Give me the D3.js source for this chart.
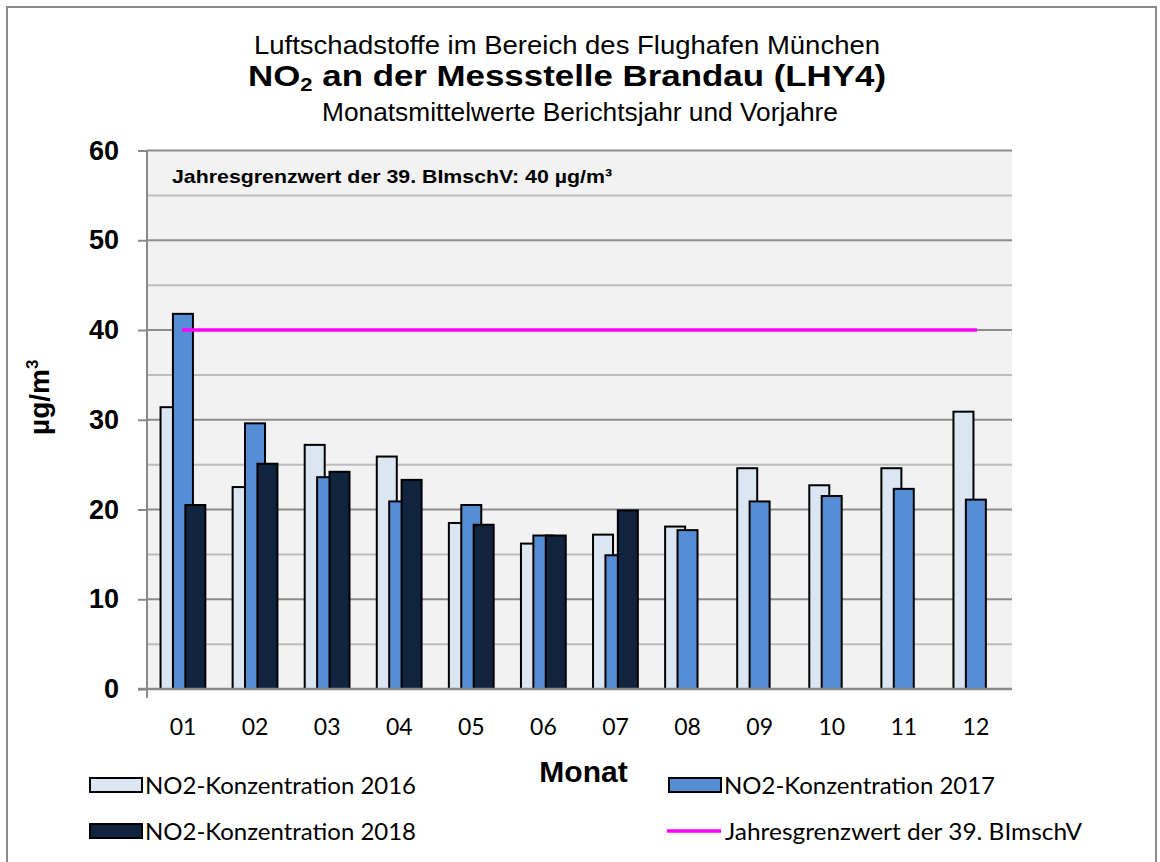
<!DOCTYPE html>
<html>
<head>
<meta charset="utf-8">
<script src="https://cdn.jsdelivr.net/npm/d3@7"></script>
<style>
    body { margin: 0; background: #fff; }
    svg { display: block; }
    .tick-y text { font-family: "Liberation Sans", Arial, sans-serif; font-weight: bold; font-size: 27px; fill: #000; }
    .tick-x text { font-family: Lato, "Open Sans", sans-serif; font-size: 23px; fill: #000; }
    .legendText { font-family: Lato, "Open Sans", sans-serif; font-size: 23px; fill: #000; }
</style>
</head>
<body>
<svg id="chart"></svg>
<script>
// months and series
const months = ['01', '02', '03', '04', '05', '06', '07', '08', '09', '10', '11', '12'];
const seriesNames = ['NO2-Konzentration 2016', 'NO2-Konzentration 2017', 'NO2-Konzentration 2018'];
const values2016 = [31.4, 22.5, 27.2, 25.9, 18.5, 16.2, 17.2, 18.1, 24.6, 22.7, 24.6, 30.9];
const values2017 = [41.8, 29.6, 23.6, 20.9, 20.5, 17.1, 14.9, 17.7, 20.9, 21.5, 22.3, 21.1];
const values2018 = [20.5, 25.1, 24.2, 23.3, 18.3, 17.1, 19.9, null, null, null, null, null];
const limitValue = 40;
const limitName = 'Jahresgrenzwert der 39. BImschV';
const yTicks = [0, 10, 20, 30, 40, 50, 60];
const yMinorTicks = [5, 15, 25, 35, 45, 55];

const colors = ['#dce6f2', '#558ed5', '#10243f'];

class NO2Chart {
    constructor(_config) {
        this.config = {
            parentElement: _config.parentElement,
            containerWidth: 1160,
            containerHeight: 862,
            margin: { top: 150.5, right: 148, bottom: 173, left: 147 }
        };
        this.initVis();
    }

    initVis() {
        let vis = this;
        vis.width = vis.config.containerWidth - vis.config.margin.left - vis.config.margin.right;
        vis.height = vis.config.containerHeight - vis.config.margin.top - vis.config.margin.bottom;

        vis.svg = d3.select(vis.config.parentElement)
            .attr('width', vis.config.containerWidth)
            .attr('height', vis.config.containerHeight);

        // outer frame
        vis.svg.append('rect')
            .attr('x', 7).attr('y', 7)
            .attr('width', 1149).attr('height', 900)
            .attr('fill', 'none')
            .attr('stroke', '#8a8a8a')
            .attr('stroke-width', 2);

        // titles
        const titleG = vis.svg.append('g')
            .attr('font-family', '"Liberation Sans", Arial, sans-serif')
            .attr('text-anchor', 'middle');
        titleG.append('text')
            .attr('x', 567).attr('y', 54)
            .attr('font-size', 25)
            .attr('textLength', 626)
            .attr('lengthAdjust', 'spacingAndGlyphs')
            .text('Luftschadstoffe im Bereich des Flughafen München');
        const t2 = titleG.append('text')
            .attr('x', 567).attr('y', 86)
            .attr('font-size', 30)
            .attr('font-weight', 'bold')
            .attr('textLength', 638)
            .attr('lengthAdjust', 'spacingAndGlyphs');
        t2.append('tspan').text('NO');
        t2.append('tspan').attr('font-size', 19).attr('dy', 5).text('2');
        t2.append('tspan').attr('dy', -5).text(' an der Messstelle Brandau (LHY4)');
        titleG.append('text')
            .attr('x', 580).attr('y', 121)
            .attr('font-size', 25)
            .attr('textLength', 516)
            .attr('lengthAdjust', 'spacingAndGlyphs')
            .text('Monatsmittelwerte Berichtsjahr und Vorjahre');

        vis.chart = vis.svg.append('g')
            .attr('transform', `translate(${vis.config.margin.left},${vis.config.margin.top})`);

        vis.xScale = d3.scaleBand()
            .domain(months)
            .range([0, vis.width]);

        vis.yScale = d3.scaleLinear()
            .domain([0, 60])
            .range([vis.height, 0]);

        // bar offsets inside a month (bars overlap)
        vis.barWidth = 20;
        vis.offsetScale = d3.scalePoint()
            .domain([0, 1, 2])
            .range([-22.5, -22.5 + 2 * 12.4]);

        vis.renderVis();
    }

    renderVis() {
        let vis = this;

        vis.chart.append('rect')
            .attr('width', vis.width)
            .attr('height', vis.height)
            .attr('fill', '#f2f2f2');

        // minor gridlines
        vis.chart.selectAll('.minor')
            .data(yMinorTicks)
            .join('line')
            .attr('class', 'minor')
            .attr('x1', 0).attr('x2', vis.width)
            .attr('y1', d => vis.yScale(d)).attr('y2', d => vis.yScale(d))
            .attr('stroke', '#bdbdbd')
            .attr('stroke-width', 2);

        // major gridlines
        vis.chart.selectAll('.major')
            .data(yTicks.slice(1))
            .join('line')
            .attr('class', 'major')
            .attr('x1', 0).attr('x2', vis.width)
            .attr('y1', d => vis.yScale(d)).attr('y2', d => vis.yScale(d))
            .attr('stroke', '#8c8c8c')
            .attr('stroke-width', 2);

        // annotation
        vis.chart.append('text')
            .attr('x', 25).attr('y', 32)
            .attr('font-family', '"Liberation Sans", Arial, sans-serif')
            .attr('font-weight', 'bold')
            .attr('font-size', 19)
            .attr('textLength', 440)
            .attr('lengthAdjust', 'spacingAndGlyphs')
            .text('Jahresgrenzwert der 39. BImschV: 40 µg/m³');

        // bars
        const allSeries = [values2016, values2017, values2018];
        allSeries.forEach((vals, i) => {
            const data = months.map((m, j) => ({ month: m, value: vals[j] })).filter(d => d.value != null);
            vis.chart.selectAll(`.bar-${i}`)
                .data(data)
                .join('rect')
                .attr('class', `bar-${i}`)
                .attr('x', d => vis.xScale(d.month) + vis.xScale.bandwidth() / 2 + vis.offsetScale(i))
                .attr('y', d => vis.yScale(d.value))
                .attr('width', vis.barWidth)
                .attr('height', d => vis.height - vis.yScale(d.value))
                .attr('fill', colors[i])
                .attr('stroke', '#000')
                .attr('stroke-width', 2);
        });

        // limit line
        vis.chart.append('line')
            .attr('x1', vis.xScale(months[0]) + vis.xScale.bandwidth() / 2 - 1)
            .attr('x2', vis.xScale(months[11]) + vis.xScale.bandwidth() / 2 + 1)
            .attr('y1', vis.yScale(limitValue))
            .attr('y2', vis.yScale(limitValue))
            .attr('stroke', '#ff00ff')
            .attr('stroke-width', 3.5);

        // axes
        const yAxis = d3.axisLeft(vis.yScale)
            .tickValues(yTicks)
            .tickSize(9)
            .tickPadding(19);
        const yAxisG = vis.chart.append('g')
            .attr('class', 'tick-y')
            .call(yAxis);
        yAxisG.selectAll('line').attr('stroke', '#8a8a8a').attr('stroke-width', 2);
        yAxisG.select('.domain').attr('stroke', '#8a8a8a').attr('stroke-width', 2)
            .attr('d', `M0,0V${vis.height + 9}`);

        const xAxis = d3.axisBottom(vis.xScale)
            .tickSize(0)
            .tickPadding(30);
        const xAxisG = vis.chart.append('g')
            .attr('class', 'tick-x')
            .attr('transform', `translate(0,${vis.height})`)
            .call(xAxis);
        xAxisG.select('.domain').attr('stroke', '#8a8a8a').attr('stroke-width', 2.5)
            .attr('d', `M-9,0H${vis.width}`);

        // axis titles
        vis.chart.append('text')
            .attr('x', vis.width / 2 + 4).attr('y', vis.height + 93)
            .attr('text-anchor', 'middle')
            .attr('font-family', '"Liberation Sans", Arial, sans-serif')
            .attr('font-weight', 'bold')
            .attr('font-size', 30)
            .text('Monat');

        const yl = vis.chart.append('text')
            .attr('transform', `translate(-98, ${vis.yScale(32.5)}) rotate(-90)`)
            .attr('text-anchor', 'middle')
            .attr('font-family', '"Liberation Sans", Arial, sans-serif')
            .attr('font-weight', 'bold')
            .attr('font-size', 28);
        yl.append('tspan').text('µg/m');
        yl.append('tspan').attr('font-size', 17).attr('dy', -11).text('3');

        // legend
        const legendItems = [
            { name: seriesNames[0], type: 'box', color: colors[0], x: 90, y: 778, len: 271 },
            { name: seriesNames[1], type: 'box', color: colors[1], x: 669, y: 778, len: 271 },
            { name: seriesNames[2], type: 'box', color: colors[2], x: 90, y: 824, len: 271 },
            { name: limitName, type: 'line', color: '#ff00ff', x: 667, y: 824, len: 357 }
        ];
        const legend = vis.svg.selectAll('.legend')
            .data(legendItems)
            .join('g')
            .attr('class', 'legend')
            .attr('transform', d => `translate(${d.x},${d.y})`);
        legend.filter(d => d.type === 'box').append('rect')
            .attr('width', 52).attr('height', 14)
            .attr('fill', d => d.color)
            .attr('stroke', '#000')
            .attr('stroke-width', 2);
        legend.filter(d => d.type === 'line').append('line')
            .attr('x1', 0).attr('x2', 54)
            .attr('y1', 7).attr('y2', 7)
            .attr('stroke', d => d.color)
            .attr('stroke-width', 3.5);
        legend.append('text')
            .attr('class', 'legendText')
            .attr('x', d => d.type === 'box' ? 55 : 58)
            .attr('y', 16)
            .attr('textLength', d => d.len)
            .attr('lengthAdjust', 'spacingAndGlyphs')
            .text(d => d.name);
    }
}

new NO2Chart({ parentElement: '#chart' });
</script>
</body>
</html>
